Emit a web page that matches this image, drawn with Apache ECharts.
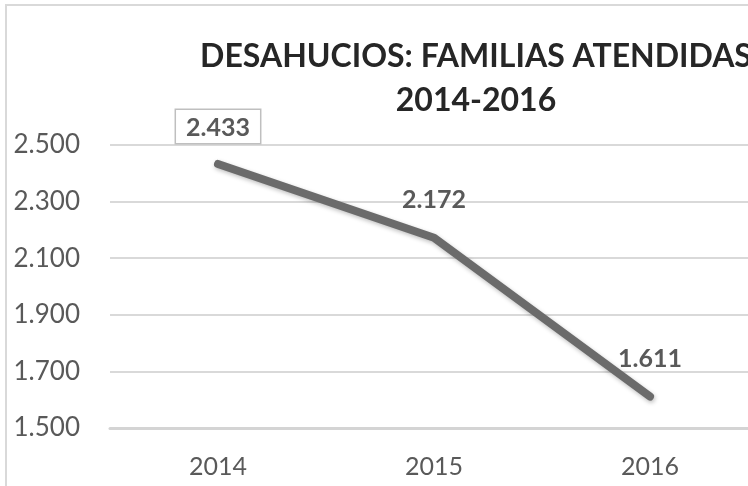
<!DOCTYPE html>
<html>
<head>
<meta charset="utf-8">
<script src="https://cdn.jsdelivr.net/npm/echarts@6/dist/echarts.min.js"></script>
<style>html,body{margin:0;padding:0;background:#fff}#c{width:748px;height:486px}</style>
</head>
<body>
<div id="c"></div>
<script>
const titleLines = ['DESAHUCIOS: FAMILIAS ATENDIDAS', '2014-2016'];
const categories = ['2014', '2015', '2016'];
const familias = [2433, 2172, 1611];
const yMin = 1500, yMax = 2500, yStep = 200;

function fmt(v) {
  const s = String(Math.round(v));
  return s.replace(/\B(?=(\d{3})+(?!\d))/g, '.');
}

const chart = echarts.init(document.getElementById('c'));
chart.setOption({
  backgroundColor: '#fff',
  animation: false,
  graphic: [{
    type: 'rect', shape: { x: 6, y: 5, width: 800, height: 600 },
    style: { fill: 'none', stroke: '#d9d9d9', lineWidth: 2 }, silent: true
  }],
  title: {
    text: titleLines.join('\n'),
    left: 471, top: 30, textAlign: 'center',
    textStyle: { fontFamily: 'Lato', fontWeight: 'bold', fontSize: 32, color: '#262626', lineHeight: 44 }
  },
  grid: { left: 110, width: 648, top: 145, bottom: 58, outerBoundsMode: 'none', containLabel: false },
  xAxis: {
    type: 'category', data: categories, boundaryGap: true,
    axisLine: { show: true, lineStyle: { color: '#d4d4d4', width: 3 } },
    axisTick: { show: false },
    axisLabel: { color: '#595959', fontFamily: 'Lato', fontSize: 25, margin: 26 }
  },
  yAxis: {
    type: 'value', min: yMin, max: yMax, interval: yStep,
    axisLine: { show: false }, axisTick: { show: false },
    splitLine: { lineStyle: { color: '#d9d9d9', width: 2 } },
    axisLabel: { color: '#595959', fontFamily: 'Lato', fontSize: 26, margin: 30, formatter: fmt }
  },
  series: [{
    type: 'line',
    data: familias.map((v, i) => i === 0 ? {
      value: v,
      label: { borderColor: '#bfbfbf', borderWidth: 1.5, padding: [5, 10, 3, 10], backgroundColor: '#fff', distance: 18 }
    } : v),
    symbol: 'circle', symbolSize: 6, showSymbol: true,
    itemStyle: { color: '#6b6b6b' },
    lineStyle: { color: '#6b6b6b', width: 8, cap: 'round', join: 'round',
      shadowColor: 'rgba(0,0,0,0.25)', shadowBlur: 4, shadowOffsetX: 1, shadowOffsetY: 2 },
    label: {
      show: true, position: 'top', distance: 22,
      color: '#595959', fontFamily: 'Lato', fontWeight: 'bold', fontSize: 25,
      formatter: p => fmt(p.value)
    },
    labelLayout: { hideOverlap: false }
  }]
});
</script>
</body>
</html>
